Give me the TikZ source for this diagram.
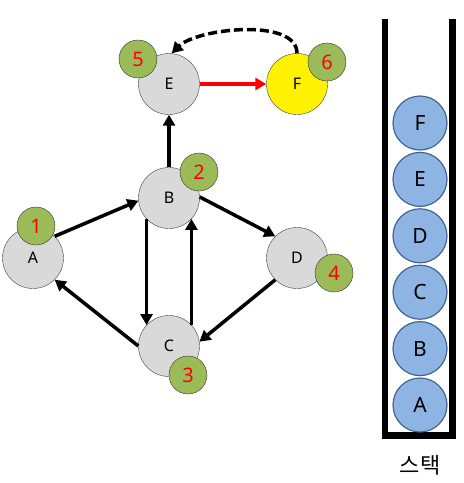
\documentclass[tikz,border=0pt]{standalone}
\usepackage{fontspec}
\setmainfont{Noto Sans}
\newfontfamily\krfont{Noto Sans CJK KR}
\usetikzlibrary{arrows.meta, positioning}
\definecolor{nodegray}{RGB}{217,217,217}
\definecolor{badgegreen}{RGB}{155,187,89}
\definecolor{stackblue}{RGB}{142,180,227}
\definecolor{stackedge}{RGB}{65,100,150}

\begin{document}
\begin{tikzpicture}[x=1pt, y=-1pt,
  vertex/.style={circle, draw=black!75, fill=nodegray, minimum size=61pt, inner sep=0pt, font=\fontsize{16}{16}\selectfont},
  visit/.style={circle, draw=black!80, fill=badgegreen, minimum size=38pt, inner sep=0pt, text=red, font=\fontsize{20}{20}\selectfont},
  stackitem/.style={circle, draw=stackedge, line width=1.2pt, fill=stackblue, minimum size=54pt, inner sep=0pt, font=\fontsize{21}{21}\selectfont},
  link/.style={line width=3.5pt, -{Triangle[length=11pt,width=12pt]}}
]
  \useasboundingbox (0,0) rectangle (464,483);

  % graph
  \node[vertex] (A) at (33,258) {A};
  \node[vertex] (B) at (169,198) {B};
  \node[vertex] (C) at (169,346) {C};
  \node[vertex] (D) at (297,258) {D};
  \node[vertex] (E) at (169,84) {E};
  \node[vertex, fill=yellow] (F) at (297,84) {F};

  \draw[link] (A.45) -- (B.185);
  \draw[link] (B.223) -- (C.137);
  \draw[link] (C.43) -- (B.-43);
  \draw[link] (B.2) -- (D.135);
  \draw[link] (D.225) -- (C.8);
  \draw[link] (C.180) -- (A.-45);
  \draw[link] (B.90) -- (E.-90);
  \draw[link, red] (E.0) -- (F.180);
  \draw[link, dash pattern=on 9pt off 4pt] (F.90) .. controls +(0,-36) and +(25,-25) .. (E.85);

  % visiting order
  \node[visit] (n1) at (36,226) {1};
  \node[visit] (n2) at (199,172) {2};
  \node[visit] (n3) at (188,375) {3};
  \node[visit] (n4) at (334,273) {4};
  \node[visit] (n5) at (138,59) {5};
  \node[visit] (n6) at (327,62) {6};

  % stack
  \draw[line width=6.5pt] (385,19) -- (385,435.5) -- (452.5,435.5) -- (452.5,19);
  \foreach \name [count=\i from 0] in {A,B,C,D,E,F}
    \node[stackitem] (s\name) at (420,405-56.4*\i) {\name};
  \node[font=\krfont\fontsize{22}{22}\selectfont] (label) at (420,465) {스택};
\end{tikzpicture}
\end{document}
